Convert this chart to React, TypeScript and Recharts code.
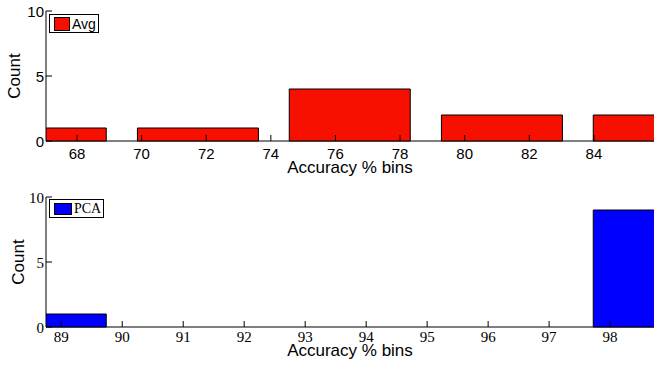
import React from 'react';
import { BarChart, Bar, XAxis, YAxis, Legend, Label } from 'recharts';

// histogram bins (centres of each bin) and counts
const avgBinCenters = [67.04, 71.75, 76.45, 81.16, 85.86];
const avgCounts = [1, 1, 4, 2, 2];
const avgTicks = [68, 70, 72, 74, 76, 78, 80, 82, 84];

const pcaBinCenters = [88.75, 91.24, 93.74, 96.23, 98.72];
const pcaCounts = [1, 0, 0, 0, 9];
const pcaTicks = [89, 90, 91, 92, 93, 94, 95, 96, 97, 98];

const countTicks = [0, 5, 10];

const SANS = '"Liberation Sans", Arial, sans-serif';
const SERIF = '"Liberation Serif", "Times New Roman", serif';

interface HistProps {
    name: string;
    bins: number[];
    counts: number[];
    ticks: number[];
    color: string;
    tickFont: string;
    legendFont: string;
    height: number;
    marginTop: number;
    axisHeight: number;
    tickBaseline: number;
    titleBaseline: number;
    countBaseline: number;
    legendWidth: number;
}

// inward tick marks, label below the axis
const makeXTick = (font: string, baseline: number) => (props: any) => {
    const { x, y, payload } = props;
    return (
        <g>
            <line x1={x} x2={x} y1={y} y2={y - 6} stroke="#000" />
            <text x={x} y={y + baseline} textAnchor="middle" fontFamily={font} fontSize={15} fill="#000">
                {payload.value}
            </text>
        </g>
    );
};

const makeYTick = (font: string) => (props: any) => {
    const { x, y, payload } = props;
    return (
        <g>
            <line x1={x} x2={x + 6} y1={y} y2={y} stroke="#000" />
            <text x={x - 2} y={y + 5.5} textAnchor="end" fontFamily={font} fontSize={15} fill="#000">
                {payload.value}
            </text>
        </g>
    );
};

const LegendBox = ({ payload, font, width }: any) => {
    const item = payload?.[0];
    if (!item) return null;
    return (
        <div style={{
            boxSizing: 'border-box', width, height: 19, border: '1px solid #000', background: '#fff',
            display: 'flex', alignItems: 'center', paddingLeft: 4,
        }}>
            <span style={{
                display: 'inline-block', boxSizing: 'border-box', width: width > 52 ? 18 : 16, height: width > 52 ? 12 : 14,
                background: item.color, border: '1px solid #000', marginRight: 2,
            }} />
            <span style={{ fontFamily: font, fontSize: 14, color: '#000', lineHeight: '14px' }}>{item.value}</span>
        </div>
    );
};

const Histogram: React.FC<HistProps> = (p) => {
    const data = p.bins.map((bin, i) => ({ bin, count: p.counts[i] }));
    return (
        <BarChart
            width={654}
            height={p.height}
            data={data}
            margin={{ top: p.marginTop, right: 0, bottom: 0, left: 0 }}
        >
            <XAxis
                dataKey="bin"
                type="number"
                domain={[p.bins[0], p.bins[p.bins.length - 1]]}
                allowDataOverflow
                ticks={p.ticks}
                interval={0}
                height={p.axisHeight}
                tickSize={0}
                tickMargin={0}
                tickLine={false}
                axisLine={{ stroke: '#000' }}
                tick={makeXTick(p.tickFont, p.tickBaseline)}
                zIndex={0}
            >
                <Label
                    content={({ viewBox }: any) => (
                        <text
                            x={viewBox.x + viewBox.width / 2}
                            y={viewBox.y + p.titleBaseline}
                            textAnchor="middle"
                            fontFamily={SANS}
                            fontSize={17}
                            fill="#000"
                        >
                            Accuracy % bins
                        </text>
                    )}
                />
            </XAxis>
            <YAxis
                type="number"
                domain={[0, 10]}
                ticks={countTicks}
                interval={0}
                width={46}
                tickSize={0}
                tickMargin={0}
                tickLine={false}
                axisLine={{ stroke: '#000' }}
                tick={makeYTick(p.tickFont)}
            >
                <Label
                    content={({ viewBox }: any) => {
                        const cy = viewBox.y + viewBox.height / 2;
                        return (
                            <text
                                x={p.countBaseline}
                                y={cy}
                                transform={`rotate(-90 ${p.countBaseline} ${cy})`}
                                textAnchor="middle"
                                fontFamily={SANS}
                                fontSize={17}
                                fill="#000"
                            >
                                Count
                            </text>
                        );
                    }}
                />
            </YAxis>
            <Legend
                layout="horizontal"
                verticalAlign="middle"
                align="center"
                wrapperStyle={{ position: 'absolute', left: 49, top: 14, width: 'auto', height: 'auto' }}
                content={(props: any) => <LegendBox {...props} font={p.legendFont} width={p.legendWidth} />}
            />
            <Bar
                dataKey="count"
                name={p.name}
                fill={p.color}
                stroke="#000"
                strokeWidth={1}
                isAnimationActive={false}
            />
        </BarChart>
    );
};

export default function App() {
    return (
        <div style={{ position: 'absolute', left: 0, top: 0, width: 654, height: 366, background: '#fff' }}>
            <Histogram
                name="Avg"
                bins={avgBinCenters}
                counts={avgCounts}
                ticks={avgTicks}
                color="#F70F00"
                tickFont={SANS}
                legendFont={SANS}
                height={185}
                marginTop={11}
                axisHeight={44}
                tickBaseline={18}
                titleBaseline={32}
                countBaseline={20}
                legendWidth={50}
            />
            <Histogram
                name="PCA"
                bins={pcaBinCenters}
                counts={pcaCounts}
                ticks={pcaTicks}
                color="#0000FF"
                tickFont={SERIF}
                legendFont={SERIF}
                height={181}
                marginTop={12}
                axisHeight={39}
                tickBaseline={15}
                titleBaseline={29}
                countBaseline={24}
                legendWidth={55}
            />
        </div>
    );
}
